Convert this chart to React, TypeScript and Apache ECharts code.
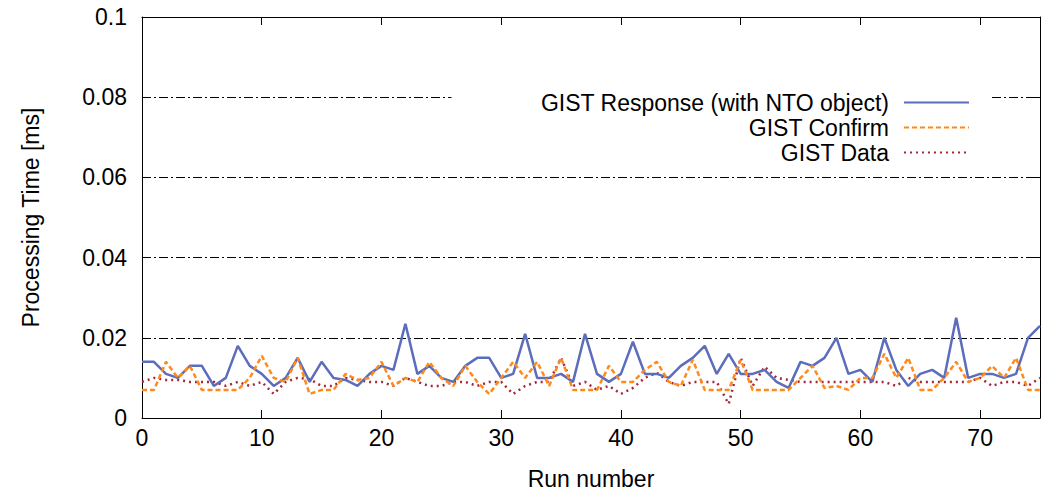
import React, { useEffect, useRef } from "react";
import * as echarts from "echarts";

const runs: number[] = Array.from({ length: 76 }, (_, i) => i);

const gistResponse: number[] = [
  0.014, 0.014, 0.011, 0.010, 0.013, 0.013, 0.008, 0.010, 0.018, 0.013,
  0.011, 0.008, 0.010, 0.015, 0.009, 0.014, 0.010, 0.0095, 0.008, 0.011,
  0.013, 0.012, 0.0235, 0.011, 0.013, 0.010, 0.009, 0.013, 0.015, 0.015,
  0.010, 0.011, 0.021, 0.010, 0.010, 0.011, 0.009, 0.021, 0.011, 0.009,
  0.011, 0.019, 0.011, 0.011, 0.010, 0.013, 0.015, 0.018, 0.011, 0.016,
  0.011, 0.011, 0.012, 0.009, 0.0075, 0.014, 0.013, 0.015, 0.020, 0.011,
  0.012, 0.009, 0.020, 0.012, 0.008, 0.011, 0.012, 0.010, 0.025, 0.010,
  0.011, 0.011, 0.010, 0.011, 0.020, 0.023,
];

const gistConfirm: number[] = [
  0.007, 0.007, 0.014, 0.010, 0.013, 0.007, 0.007, 0.007, 0.007, 0.010,
  0.0155, 0.010, 0.009, 0.015, 0.006, 0.007, 0.007, 0.011, 0.0095, 0.010,
  0.014, 0.008, 0.010, 0.009, 0.014, 0.010, 0.008, 0.013, 0.009, 0.006,
  0.010, 0.014, 0.010, 0.014, 0.008, 0.015, 0.007, 0.007, 0.007, 0.013,
  0.009, 0.009, 0.012, 0.014, 0.009, 0.008, 0.0145, 0.007, 0.007, 0.007,
  0.0145, 0.007, 0.007, 0.007, 0.007, 0.010, 0.013, 0.0075, 0.008, 0.007,
  0.010, 0.010, 0.016, 0.010, 0.015, 0.007, 0.007, 0.010, 0.014, 0.009,
  0.010, 0.013, 0.010, 0.015, 0.007, 0.007,
];

const gistData: number[] = [
  0.009, 0.010, 0.0095, 0.0095, 0.009, 0.009, 0.009, 0.008, 0.009, 0.008,
  0.009, 0.006, 0.009, 0.010, 0.0097, 0.008, 0.008, 0.010, 0.0095, 0.009,
  0.009, 0.008, 0.010, 0.009, 0.008, 0.008, 0.009, 0.009, 0.008, 0.009,
  0.009, 0.006, 0.008, 0.009, 0.009, 0.015, 0.008, 0.009, 0.007, 0.008,
  0.006, 0.0075, 0.010, 0.0113, 0.009, 0.008, 0.009, 0.009, 0.009, 0.0035,
  0.015, 0.008, 0.0128, 0.010, 0.0095, 0.009, 0.009, 0.009, 0.009, 0.009,
  0.009, 0.009, 0.009, 0.008, 0.010, 0.009, 0.009, 0.009, 0.009, 0.009,
  0.010, 0.008, 0.009, 0.009, 0.008, 0.010,
];

const seriesNames: string[] = [
  "GIST Response (with NTO object)",
  "GIST Confirm",
  "GIST Data",
];

const FONT = "'Liberation Sans', Arial, Helvetica, sans-serif";
const FS = 23;

export default function App() {
  const ref = useRef<HTMLDivElement>(null);

  useEffect(() => {
    if (!ref.current) return;
    const chart = echarts.init(ref.current, undefined, { renderer: "svg" });
    const pair = (arr: number[]) => arr.map((v, i) => [runs[i], v]);
    const axisText = { color: "#000", fontSize: FS, fontFamily: FONT };

    chart.setOption({
      animation: false,
      backgroundColor: "#fff",
      textStyle: { fontFamily: FONT },
      grid: { left: 142, right: 3, top: 17, bottom: 73, containLabel: false },
      legend: {
        orient: "vertical",
        align: "right",
        right: 53,
        top: 88,
        padding: [3, 20, 3, 89],
        itemGap: 2,
        itemWidth: 65,
        itemHeight: 14,
        backgroundColor: "#fff",
        itemStyle: { color: "transparent", borderWidth: 0, opacity: 0 },
        textStyle: { color: "#000", fontSize: FS, fontFamily: FONT, padding: [0, 10, 0, 0] },
        data: seriesNames,
      },
      xAxis: [
        {
          type: "value",
          min: 0,
          max: 75,
          interval: 10,
          name: "Run number",
          nameLocation: "middle",
          nameGap: 49,
          nameTextStyle: axisText,
          axisLine: { show: true, onZero: false, lineStyle: { color: "#000", width: 1 } },
          axisTick: { show: true, inside: true, length: 8, lineStyle: { color: "#000" } },
          axisLabel: { ...axisText, margin: 8, showMaxLabel: false },
          splitLine: { show: false },
        },
        {
          type: "value",
          position: "top",
          min: 0,
          max: 75,
          interval: 10,
          axisLine: { show: true, onZero: false, lineStyle: { color: "#000", width: 1 } },
          axisTick: { show: true, inside: true, length: 8, lineStyle: { color: "#000" } },
          axisLabel: { show: false },
          splitLine: { show: false },
        },
      ],
      yAxis: [
        {
          type: "value",
          min: 0,
          max: 0.1,
          interval: 0.02,
          name: "Processing Time [ms]",
          nameLocation: "middle",
          nameGap: 100,
          nameTextStyle: axisText,
          axisLine: { show: true, onZero: false, lineStyle: { color: "#000", width: 1 } },
          axisTick: { show: true, inside: true, length: 8, lineStyle: { color: "#000" } },
          axisLabel: {
            ...axisText,
            margin: 15,
            formatter: (v: number) => String(parseFloat(v.toFixed(3))),
          },
          splitLine: {
            show: true,
            lineStyle: { color: "#000", width: 1, type: [9, 3, 2, 3] },
          },
        },
        {
          type: "value",
          position: "right",
          min: 0,
          max: 0.1,
          interval: 0.02,
          axisLine: { show: true, onZero: false, lineStyle: { color: "#000", width: 1 } },
          axisTick: { show: true, inside: true, length: 8, lineStyle: { color: "#000" } },
          axisLabel: { show: false },
          splitLine: { show: false },
        },
      ],
      series: [
        {
          name: seriesNames[0],
          type: "line",
          data: pair(gistResponse),
          showSymbol: false,
          symbol: "none",
          color: "#5b6dbb",
          lineStyle: { color: "#5b6dbb", width: 2.5, type: "solid" },
          z: 3,
        },
        {
          name: seriesNames[1],
          type: "line",
          data: pair(gistConfirm),
          showSymbol: false,
          symbol: "none",
          color: "#ff8a1c",
          lineStyle: { color: "#ff8a1c", width: 2.5, type: [5, 3] },
          z: 4,
        },
        {
          name: seriesNames[2],
          type: "line",
          data: pair(gistData),
          showSymbol: false,
          symbol: "none",
          color: "#a3283a",
          lineStyle: { color: "#a3283a", width: 2.5, type: [2, 4] },
          z: 2,
        },
      ],
    });
    return () => chart.dispose();
  }, []);

  return <div ref={ref} style={{ width: 1043, height: 495, position: "absolute", left: 0, top: 0 }} />;
}
